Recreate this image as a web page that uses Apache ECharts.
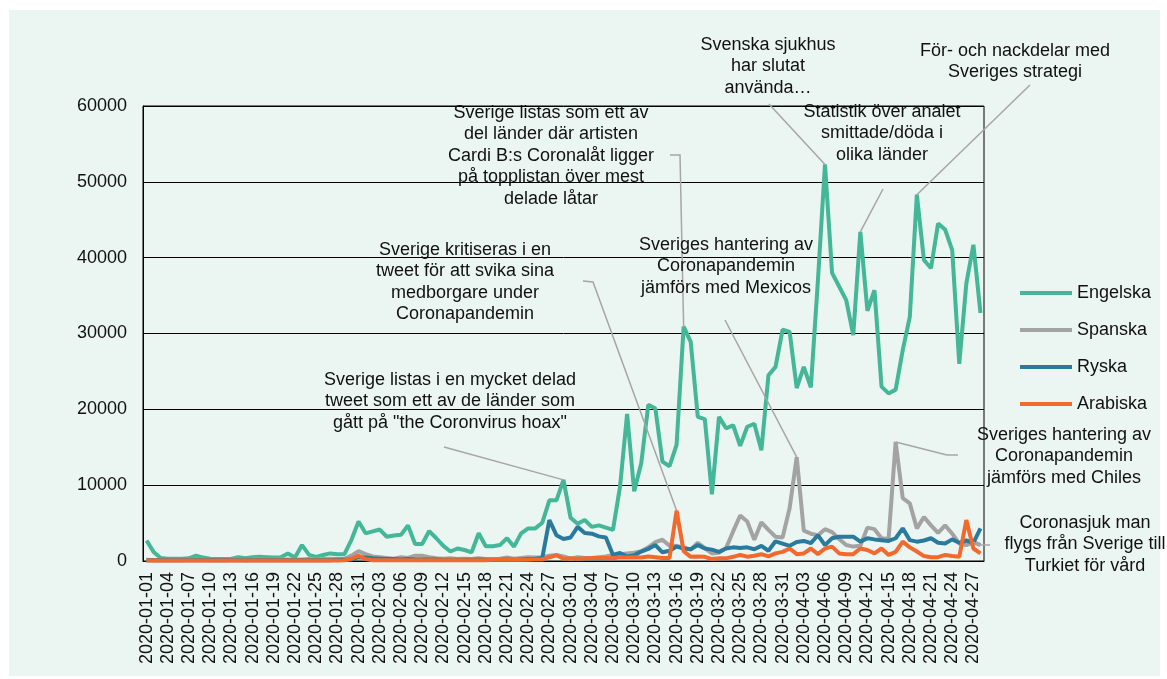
<!DOCTYPE html>
<html>
<head>
<meta charset="utf-8">
<script src="https://cdn.jsdelivr.net/npm/echarts@6/dist/echarts.min.js"></script>
<style>
  html, body { margin: 0; padding: 0; background: #fff; }
  #chart { width: 1167px; height: 679px; }
</style>
</head>
<body>
<div id="chart"></div>
<script>
// dagar 2020-01-01 .. 2020-04-28
const dates = []
for (let d = new Date(Date.UTC(2020, 0, 1)); d <= new Date(Date.UTC(2020, 3, 28)); d.setUTCDate(d.getUTCDate() + 1)) {
  dates.push(d.toISOString().slice(0, 10))
}

const yTicks = [0, 10000, 20000, 30000, 40000, 50000, 60000]

const engelska = [
  2700, 1200, 400, 300, 300, 300, 350, 700, 450, 300, 250, 250, 300, 500, 350, 500, 550, 500, 450, 500,
  1000, 450, 2100, 800, 550, 800, 1000, 900, 900, 2800, 5200, 3650, 3900, 4150, 3200, 3350, 3450, 4700, 2250, 2250,
  3950, 3000, 2000, 1250, 1650, 1450, 1150, 3650, 1950, 1950, 2100, 3000, 1900, 3650, 4300, 4300, 5050, 8000, 8000, 10700,
  5700, 4900, 5400, 4500, 4700, 4400, 4100, 9800, 19400, 9200, 12900, 20600, 20100, 13100, 12500, 15300, 30900, 28900, 19000, 18700,
  8800, 19000, 17500, 17900, 15200, 17700, 18100, 14600, 24500, 25600, 30500, 30200, 22800, 25600, 22900, 37000, 52300, 38000, 36200, 34400,
  29800, 43400, 33000, 35700, 23000, 22100, 22600, 27800, 32200, 48300, 39700, 38600, 44500, 43700, 41000, 26000, 36600, 41700, 32700
]

const spanska = [
  150, 100, 100, 100, 100, 100, 150, 150, 150, 100, 100, 100, 150, 150, 100, 150, 200, 150, 150, 200,
  200, 150, 200, 250, 200, 250, 300, 250, 300, 700, 1300, 900, 600, 500, 400, 300, 500, 400, 700, 700,
  500, 350, 300, 350, 250, 300, 250, 350, 250, 250, 300, 450, 300, 400, 500, 450, 500, 700, 800, 600,
  300, 500, 400, 400, 500, 600, 800, 900, 1000, 1100, 1300, 1800, 2500, 2800, 2000, 2000, 1800, 1500, 2400, 1700,
  1000, 1100, 1700, 3900, 6000, 5200, 2800, 5100, 4100, 3200, 3100, 7000, 13700, 4000, 3600, 3400, 4200, 3800, 2900, 2100,
  1900, 2000, 4400, 4200, 3000, 2900, 15700, 8300, 7600, 4300, 5800, 4700, 3700, 4700, 3600, 2300, 2100, 2500, 2100
]

const ryska = [
  100, 100, 100, 100, 100, 100, 100, 100, 100, 100, 100, 100, 100, 100, 100, 100, 100, 100, 100, 100,
  100, 100, 100, 100, 100, 100, 100, 150, 150, 200, 500, 450, 350, 300, 250, 250, 200, 250, 200, 200,
  200, 200, 150, 150, 150, 150, 150, 200, 150, 150, 150, 200, 150, 200, 250, 300, 400, 5400, 3400, 2900,
  3100, 4500, 3700, 3600, 3250, 3100, 800, 1050, 600, 750, 1250, 1600, 2100, 1150, 1350, 1900, 1650, 1550, 2100, 1650,
  1500, 1200, 1650, 1800, 1700, 1800, 1550, 2000, 1350, 2600, 2300, 2000, 2500, 2650, 2350, 3400, 2100, 3000, 3200, 3200,
  3200, 2550, 3000, 2850, 2750, 2650, 3000, 4300, 2750, 2550, 2700, 3000, 2400, 2300, 2850, 2400, 2700, 2400, 4300
]

const arabiska = [
  50, 50, 50, 50, 50, 50, 50, 50, 50, 50, 50, 50, 50, 50, 50, 50, 50, 50, 50, 50,
  50, 50, 50, 50, 50, 50, 50, 50, 100, 300, 700, 250, 100, 100, 100, 100, 100, 100, 100, 100,
  100, 100, 100, 100, 100, 100, 100, 100, 100, 150, 150, 150, 150, 150, 150, 200, 200, 500, 750, 300,
  350, 300, 350, 400, 400, 400, 350, 500, 450, 500, 450, 600, 500, 400, 400, 6650, 1300, 550, 600, 550,
  250, 350, 350, 550, 800, 570, 700, 900, 600, 1000, 1200, 1650, 900, 1000, 1650, 900, 1650, 1900, 1000, 900,
  900, 1650, 1450, 1000, 1650, 800, 1200, 2550, 1800, 1250, 650, 500, 500, 800, 650, 550, 5400, 1650, 1000
]

const seriesNames = ["Engelska", "Spanska", "Ryska", "Arabiska"]
const seriesColors = ["#43B797", "#A3A3A3", "#2A7A9E", "#F2692E"]

// annotations: text, which series/day the leader points at, leader start (near text)
const notes = [
  { text: 'Sverige listas i en mycket delad\ntweet som ett av de länder som\ngått på "the Coronvirus hoax"', s: 0, i: 59, tx: 450, ty: 369, path: [[444, 447]] },
  { text: "Sverige kritiseras i en\ntweet för att svika sina\nmedborgare under\nCoronapandemin", s: 3, i: 75, tx: 465, ty: 239, path: [[583, 281], [593, 282]] },
  { text: "Sverige listas som ett av\ndel länder där artisten\nCardi B:s Coronalåt ligger\npå topplistan över mest\ndelade låtar", s: 0, i: 76, tx: 551, ty: 102, path: [[670, 155], [680, 155]] },
  { text: "Sveriges hantering av\nCoronapandemin\njämförs med Mexicos", s: 1, i: 92, tx: 726, ty: 234, path: [[725, 320]] },
  { text: "Svenska sjukhus\nhar slutat\nanvända…", s: 0, i: 96, tx: 768, ty: 34, path: [[769, 104]] },
  { text: "Statistik över analet\nsmittade/döda i\nolika länder", s: 0, i: 101, tx: 882, ty: 101, path: [[883, 189]] },
  { text: "För- och nackdelar med\nSveriges strategi", s: 0, i: 109, tx: 1015, ty: 40, path: [[1030, 85]] },
  { text: "Sveriges hantering av\nCoronapandemin\njämförs med Chiles", s: 1, i: 106, tx: 1064, ty: 424, path: [[958, 455], [947, 455]] },
  { text: "Coronasjuk man\nflygs från Sverige till\nTurkiet för vård", s: 1, i: 117, tx: 1085, ty: 512, path: [[990, 545], [979, 545]] }
]

const chart = echarts.init(document.getElementById("chart"))
const allData = [engelska, spanska, ryska, arabiska]
const font = "Liberation Sans, Arial, sans-serif"

const option = {
  backgroundColor: "#ffffff",
  animation: false,
  textStyle: { fontFamily: font },
  grid: {
    left: 143,
    right: 183,
    top: 106,
    bottom: 118,
    containLabel: false,
    outerBoundsMode: "none",
    show: true,
    borderColor: "#000",
    borderWidth: 1,
    backgroundColor: "transparent"
  },
  legend: {
    orient: "vertical",
    left: 1020,
    top: 284,
    padding: 0,
    icon: "rect",
    itemWidth: 52,
    itemHeight: 4,
    itemGap: 19,
    textStyle: { fontSize: 18, color: "#111", fontFamily: font, lineHeight: 18 },
    data: seriesNames
  },
  xAxis: {
    type: "category",
    data: dates,
    boundaryGap: true,
    axisLine: { show: true, lineStyle: { color: "#000", width: 1 } },
    axisTick: { show: false },
    axisLabel: { interval: 2, rotate: 90, fontSize: 18, color: "#111", margin: 11, fontFamily: font }
  },
  yAxis: {
    type: "value",
    min: yTicks[0],
    max: yTicks[yTicks.length - 1],
    interval: yTicks[1] - yTicks[0],
    axisLine: { show: true, lineStyle: { color: "#000", width: 1 } },
    axisTick: { show: false },
    splitLine: { show: true, lineStyle: { color: "#000", width: 1 } },
    axisLabel: { fontSize: 18, color: "#111", margin: 16, fontFamily: font, formatter: v => String(v) }
  },
  series: seriesNames.map((name, k) => ({
    name: name,
    type: "line",
    data: allData[k],
    symbol: "none",
    lineStyle: { width: 4, color: seriesColors[k] },
    itemStyle: { color: seriesColors[k] }
  }))
}

chart.setOption(option)

// panel bakgrund + anteckningar med ledlinjer
const graphics = [
  { type: "rect", z: -100, silent: true, shape: { x: 9, y: 10, width: 1151, height: 666 }, style: { fill: "#EBF5F1" } }
]
notes.forEach(n => {
  const p = chart.convertToPixel({ seriesIndex: n.s }, [n.i, allData[n.s][n.i]])
  graphics.push({
    type: "polyline",
    z: 50,
    silent: true,
    shape: { points: n.path.concat([p]) },
    style: { stroke: "#A6A6A6", lineWidth: 1.5, fill: null }
  })
  graphics.push({
    type: "text",
    z: 60,
    silent: true,
    x: n.tx,
    y: n.ty,
    style: {
      text: n.text,
      font: "18px " + font,
      fill: "#111",
      align: "center",
      verticalAlign: "top",
      lineHeight: 21.5
    }
  })
})
chart.setOption({ graphic: graphics })
</script>
</body>
</html>
